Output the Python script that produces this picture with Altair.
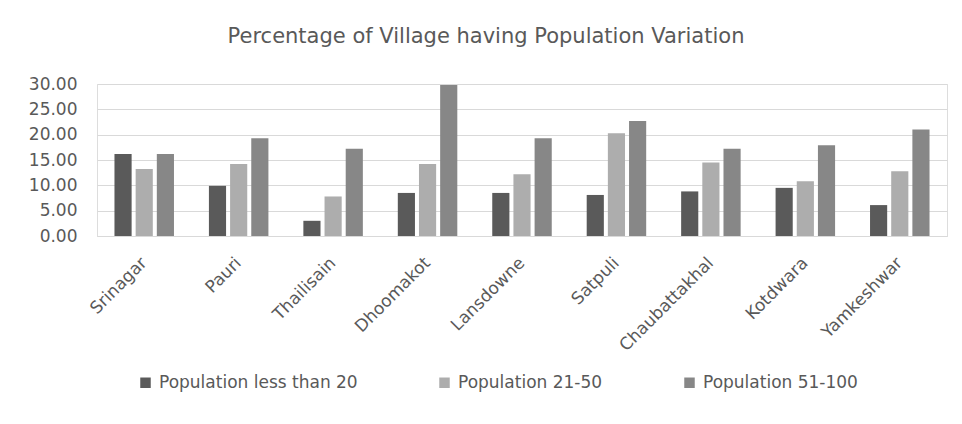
import altair as alt
import pandas as pd

blocks = ["Srinagar", "Pauri", "Thailisain", "Dhoomakot", "Lansdowne",
          "Satpuli", "Chaubattakhal", "Kotdwara", "Yamkeshwar"]
series = ["Population less than 20", "Population 21-50", "Population 51-100"]
less_than_20 = [16.2, 9.9, 3.0, 8.5, 8.5, 8.1, 8.8, 9.5, 6.1]
pop_21_50 = [13.2, 14.2, 7.8, 14.2, 12.2, 20.3, 14.5, 10.8, 12.8]
pop_51_100 = [16.2, 19.3, 17.2, 29.8, 19.3, 22.7, 17.2, 17.9, 21.0]
colors = ["#5a5a5a", "#adadad", "#878787"]

rows = []
for s, vals in zip(series, [less_than_20, pop_21_50, pop_51_100]):
    for b, v in zip(blocks, vals):
        rows.append({"Block": b, "Series": s, "Value": v})
df = pd.DataFrame(rows)

FONT = "DejaVu Sans"
TXT = "#595959"

chart = alt.Chart(df).mark_bar().encode(
    x=alt.X("Block:N", sort=blocks, title=None,
            scale=alt.Scale(paddingInner=0.37, paddingOuter=0.185),
            axis=alt.Axis(labelAngle=-45, labelAlign="right", labelBaseline="middle",
                          labelPadding=24, ticks=False, domainColor="#d9d9d9",
                          labelFont=FONT, labelFontSize=17, labelColor=TXT)),
    xOffset=alt.XOffset("Series:N", sort=series,
                        scale=alt.Scale(paddingInner=0.19, paddingOuter=0)),
    y=alt.Y("Value:Q", title=None,
            scale=alt.Scale(domain=[0, 30], nice=False),
            axis=alt.Axis(values=[0, 5, 10, 15, 20, 25, 30], format=".2f",
                          ticks=False, domain=False, gridColor="#d9d9d9",
                          labelFont=FONT, labelFontSize=17, labelColor=TXT,
                          labelPadding=20)),
    color=alt.Color("Series:N", sort=series, title=None,
                    scale=alt.Scale(domain=series, range=colors),
                    legend=alt.Legend(orient="none", direction="horizontal",
                                      legendX=40, legendY=290, symbolType="square",
                                      symbolSize=110, symbolStrokeWidth=0,
                                      labelFont=FONT, labelFontSize=17, labelColor=TXT,
                                      labelLimit=0, columnPadding=78, labelOffset=5,
                                      padding=0)),
).properties(
    width=850, height=152,
    title=alt.TitleParams("Percentage of Village having Population Variation",
                          font=FONT, fontSize=21, fontWeight="normal", color=TXT,
                          anchor="middle", dx=-36, offset=28),
    padding={"left": 97, "top": 84, "right": 15, "bottom": 188},
    autosize=alt.AutoSizeParams(type="none"),
).configure_view(stroke=None).configure(background="white")

chart.save("out.html", embed_options={"renderer": "svg", "actions": False})
